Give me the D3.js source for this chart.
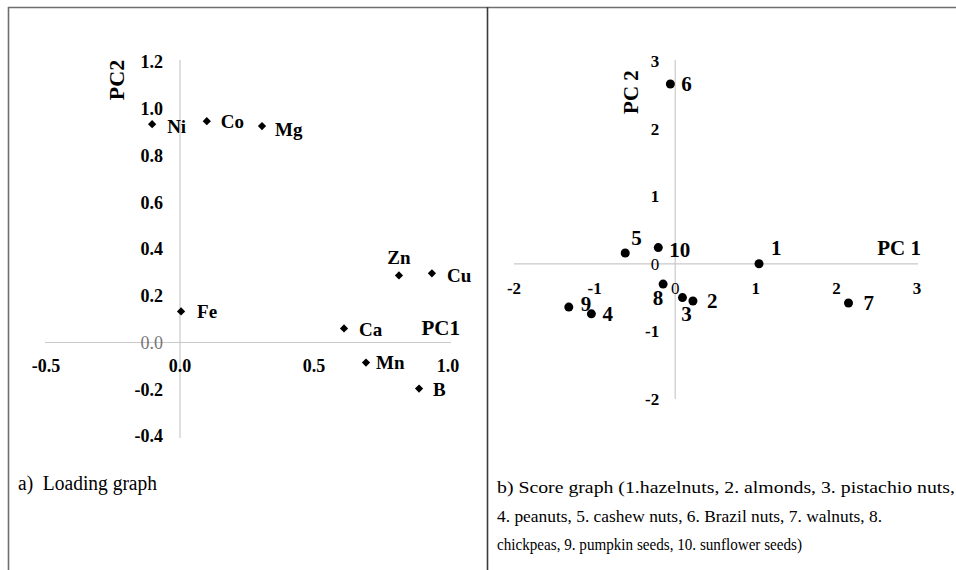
<!DOCTYPE html>
<html>
<head>
<meta charset="utf-8">
<script src="https://cdn.jsdelivr.net/npm/d3@7"></script>
<style>
  html, body { margin: 0; padding: 0; background: #fff; }
  svg { display: block; }
  text { font-family: "Liberation Serif", "Times New Roman", serif; fill: #000; }
</style>
</head>
<body>
<svg id="chart" width="956" height="570"></svg>
<script>
// ---------- Data: a) Loading graph ----------
const loadingNames = ["Ni", "Co", "Mg", "Zn", "Cu", "Fe", "Ca", "Mn", "B"];
const loadingPC1   = [-0.104, 0.100, 0.306, 0.817, 0.940, 0.004, 0.612, 0.694, 0.892];
const loadingPC2   = [0.934, 0.947, 0.926, 0.287, 0.296, 0.133, 0.060, -0.086, -0.197];
const loadingXTicks = [-0.5, 0.0, 0.5, 1.0];
const loadingYTicks = [-0.4, -0.2, 0.0, 0.2, 0.4, 0.6, 0.8, 1.0, 1.2];

// ---------- Data: b) Score graph ----------
const scoreNames = ["1", "2", "3", "4", "5", "6", "7", "8", "9", "10"];
const scorePC1   = [1.04, 0.22, 0.09, -1.04, -0.62, -0.06, 2.15, -0.15, -1.32, -0.21];
const scorePC2   = [0.00, -0.55, -0.50, -0.74, 0.16, 2.66, -0.58, -0.30, -0.64, 0.24];
const scoreXTicks = [-2, -1, 0, 1, 2, 3];
const scoreYTicks = [-2, -1, 0, 1, 2, 3];

const captionA = "a)  Loading graph";
const captionB = [
  "b) Score graph (1.hazelnuts, 2. almonds, 3. pistachio nuts,",
  "4. peanuts, 5. cashew nuts, 6. Brazil nuts, 7. walnuts, 8.",
  "chickpeas, 9. pumpkin seeds, 10. sunflower seeds)"
];

// label placement (layout only): [dx, dy, anchor]
const loadingLabelPos = {
  Ni: [15, 2, "start"], Co: [14, 0, "start"], Mg: [13, 3, "start"],
  Zn: [0, -18, "middle"], Cu: [15, 2, "start"], Fe: [16, 0, "start"],
  Ca: [15, 1, "start"], Mn: [10, 0, "start"], B: [14, 1, "start"]
};
const scoreLabelPos = {
  "1": [12, -16, "start"], "2": [14, 0, "start"], "3": [4, 16, "middle"],
  "4": [11, 0, "start"], "5": [6, -15, "start"], "6": [11, 0, "start"],
  "7": [15, 0, "start"], "8": [-5, 14, "middle"], "9": [12, -3, "start"],
  "10": [11, 2, "start"]
};
// caption line widths as measured in the reference
const captionBWidths = [458, 385, 305];

const fmt1 = v => d3.format(".1f")(v).replace("\u2212", "-");

const svg = d3.select("#chart");

// ---------- Frame lines ----------
svg.append("line").attr("x1", 8).attr("x2", 956).attr("y1", 7.5).attr("y2", 7.5)
  .attr("stroke", "#6e6e6e").attr("stroke-width", 1.6);
svg.append("line").attr("x1", 8.5).attr("x2", 8.5).attr("y1", 7).attr("y2", 570)
  .attr("stroke", "#6e6e6e").attr("stroke-width", 1.6);
svg.append("line").attr("x1", 487.5).attr("x2", 487.5).attr("y1", 7).attr("y2", 570)
  .attr("stroke", "#3a3a3a").attr("stroke-width", 1.6);

const axisColor = "#c9c9c9";

// ================= Panel a =================
{
  const x = d3.scaleLinear().domain([-0.5, 1.0]).range([46, 448]);
  const y = d3.scaleLinear().domain([-0.4, 1.2]).range([436, 62]);
  const g = svg.append("g");

  g.append("line").attr("x1", x(-0.5) - 1).attr("x2", x(1.0) + 3)
    .attr("y1", y(0)).attr("y2", y(0)).attr("stroke", axisColor).attr("stroke-width", 1.2);
  g.append("line").attr("x1", x(0)).attr("x2", x(0))
    .attr("y1", y(1.2) - 2).attr("y2", y(-0.4) + 2).attr("stroke", axisColor).attr("stroke-width", 1.2);

  g.selectAll(".yt").data(loadingYTicks).join("text")
    .attr("x", x(0) - 17).attr("y", d => y(d)).attr("dy", "0.35em")
    .attr("text-anchor", "end")
    .attr("font-size", 18)
    .attr("font-weight", d => d === 0 ? "normal" : "bold")
    .style("fill", d => d === 0 ? "#777" : "#000")
    .text(d => fmt1(d));

  g.selectAll(".xt").data(loadingXTicks).join("text")
    .attr("x", d => x(d)).attr("y", y(0) + 23).attr("dy", "0.35em")
    .attr("text-anchor", "middle")
    .attr("font-size", 18).attr("font-weight", "bold")
    .text(d => fmt1(d));

  const pts = loadingNames.map((n, i) => ({ n, px: loadingPC1[i], py: loadingPC2[i] }));
  const diamond = d3.symbol().type(d3.symbolSquare).size(34);
  g.selectAll(".pt").data(pts).join("path")
    .attr("d", diamond)
    .attr("transform", d => `translate(${x(d.px)},${y(d.py)}) rotate(45)`)
    .attr("fill", "#000");

  g.selectAll(".lb").data(pts).join("text")
    .attr("x", d => x(d.px) + loadingLabelPos[d.n][0])
    .attr("y", d => y(d.py) + loadingLabelPos[d.n][1])
    .attr("dy", "0.35em")
    .attr("text-anchor", d => loadingLabelPos[d.n][2])
    .attr("font-size", 19).attr("font-weight", "bold")
    .text(d => d.n);

  g.append("text").attr("x", 460).attr("y", y(0) - 15).attr("dy", "0.35em")
    .attr("text-anchor", "end").attr("font-size", 21).attr("font-weight", "bold").text("PC1");
  g.append("text").attr("transform", "translate(116,80) rotate(-90)")
    .attr("dy", "0.35em").attr("text-anchor", "middle")
    .attr("font-size", 22).attr("font-weight", "bold").text("PC2");

  g.append("text").attr("x", 18).attr("y", 490).attr("font-size", 20)
    .attr("xml:space", "preserve").style("white-space", "pre")
    .attr("textLength", 139).attr("lengthAdjust", "spacingAndGlyphs")
    .text(captionA);
}

// ================= Panel b =================
{
  const x = d3.scaleLinear().domain([-2, 3]).range([514, 917]);
  const y = d3.scaleLinear().domain([-2, 3]).range([399, 61]);
  const g = svg.append("g");

  g.append("line").attr("x1", x(-2)).attr("x2", x(3) + 1)
    .attr("y1", y(0)).attr("y2", y(0)).attr("stroke", axisColor).attr("stroke-width", 1.2);
  g.append("line").attr("x1", x(0)).attr("x2", x(0))
    .attr("y1", y(3) - 1).attr("y2", y(-2)).attr("stroke", axisColor).attr("stroke-width", 1.2);

  g.selectAll(".yt").data(scoreYTicks).join("text")
    .attr("x", x(0) - 16).attr("y", d => y(d)).attr("dy", "0.35em")
    .attr("text-anchor", "end")
    .attr("font-size", 17)
    .attr("font-weight", d => d === 0 ? "normal" : "bold")
    .text(d => d);

  g.selectAll(".xt").data(scoreXTicks).join("text")
    .attr("x", d => x(d)).attr("y", y(0) + 24).attr("dy", "0.35em")
    .attr("text-anchor", "middle")
    .attr("font-size", 17)
    .attr("font-weight", d => d === 0 ? "normal" : "bold")
    .text(d => d);

  const pts = scoreNames.map((n, i) => ({ n, px: scorePC1[i], py: scorePC2[i] }));
  g.selectAll(".pt").data(pts).join("circle")
    .attr("cx", d => x(d.px)).attr("cy", d => y(d.py)).attr("r", 4.5)
    .attr("fill", "#000");

  g.selectAll(".lb").data(pts).join("text")
    .attr("x", d => x(d.px) + scoreLabelPos[d.n][0])
    .attr("y", d => y(d.py) + scoreLabelPos[d.n][1])
    .attr("dy", "0.35em")
    .attr("text-anchor", d => scoreLabelPos[d.n][2])
    .attr("font-size", 21).attr("font-weight", "bold")
    .text(d => d.n);

  g.append("text").attr("x", 921).attr("y", y(0) - 16).attr("dy", "0.35em")
    .attr("text-anchor", "end").attr("font-size", 21).attr("font-weight", "bold").text("PC 1");
  g.append("text").attr("transform", "translate(631,92) rotate(-90)")
    .attr("dy", "0.35em").attr("text-anchor", "middle")
    .attr("font-size", 21).attr("font-weight", "bold").text("PC 2");

  g.selectAll(".cap").data(captionB).join("text")
    .attr("x", 497).attr("y", (d, i) => 493 + i * 28.5)
    .attr("font-size", 17.5)
    .attr("textLength", (d, i) => captionBWidths[i])
    .attr("lengthAdjust", "spacingAndGlyphs")
    .text(d => d);
}
</script>
</body>
</html>
